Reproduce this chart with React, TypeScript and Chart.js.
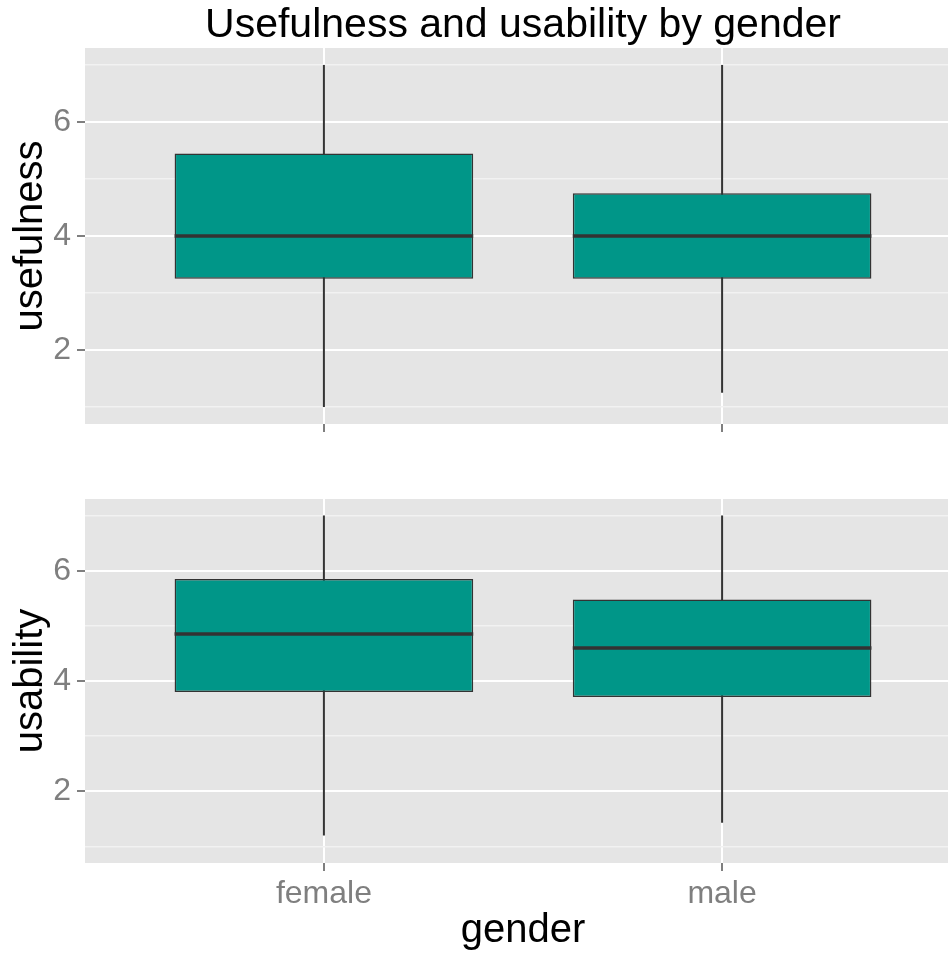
import { useEffect, useRef } from 'react';
import { Chart, registerables } from 'chart.js';

Chart.register(...registerables);

const title = 'Usefulness and usability by gender';
const xTitle = 'gender';
const categories = ['female', 'male'];
const categoryPositions = [1, 2];
const yGridValues = [1, 2, 3, 4, 5, 6, 7];
const yLabelValues = [2, 4, 6];

const usefulnessMin = [1, 1.25];
const usefulnessQ1 = [3.25, 3.25];
const usefulnessMedian = [4, 4];
const usefulnessQ3 = [5.45, 4.75];
const usefulnessMax = [7, 7];

const usabilityMin = [1.2, 1.43];
const usabilityQ1 = [3.8, 3.71];
const usabilityMedian = [4.85, 4.6];
const usabilityQ3 = [5.85, 5.48];
const usabilityMax = [7, 7];

const BOX_WIDTH = 0.75;
const FILL = '#009688';
const LINE = '#333333';
const PANEL_BG = '#E5E5E5';
const TICK_GREY = '#7F7F7F';
const FONT = "'Liberation Sans', Arial, sans-serif";

type Panel = {
  yTitle: string;
  min: number[];
  q1: number[];
  median: number[];
  q3: number[];
  max: number[];
};

const panelBackground = {
  id: 'panelBackground',
  beforeDraw(chart: any) {
    const { ctx, chartArea } = chart;
    ctx.save();
    ctx.fillStyle = PANEL_BG;
    ctx.fillRect(chartArea.left, chartArea.top, chartArea.right - chartArea.left, chartArea.bottom - chartArea.top);
    ctx.restore();
  },
};

function buildConfig(panel: Panel, isBottom: boolean): any {
  const whiskers = categoryPositions.map((x, i) => ({
    type: 'line',
    data: [
      { x, y: panel.min[i] },
      { x, y: panel.max[i] },
    ],
    borderColor: LINE,
    borderWidth: 2,
    pointRadius: 0,
    order: 3,
  }));
  const boxes = {
    type: 'bar',
    data: categoryPositions.map((x, i) => ({ x, y: [panel.q1[i], panel.q3[i]] })),
    backgroundColor: FILL,
    borderColor: LINE,
    borderWidth: 1.5,
    borderSkipped: false,
    barPercentage: BOX_WIDTH,
    categoryPercentage: 1,
    grouped: false,
    order: 2,
  };
  const medians = categoryPositions.map((x, i) => ({
    type: 'line',
    data: [
      { x: x - BOX_WIDTH / 2, y: panel.median[i] },
      { x: x + BOX_WIDTH / 2, y: panel.median[i] },
    ],
    borderColor: LINE,
    borderWidth: 3.5,
    borderCapStyle: 'butt',
    pointRadius: 0,
    order: 1,
  }));

  const isMajor = (ctx: any) => ctx.tick && yLabelValues.includes(ctx.tick.value);

  return {
    type: 'bar',
    data: { datasets: [...whiskers, boxes, ...medians] },
    plugins: [panelBackground],
    options: {
      responsive: false,
      animation: false,
      events: [],
      layout: { padding: { left: 0, right: 0, top: isBottom ? 59 : 0, bottom: 0 } },
      plugins: {
        legend: { display: false },
        tooltip: { enabled: false },
        title: {
          display: !isBottom,
          text: title,
          fullSize: false,
          color: '#000000',
          font: { family: FONT, size: 41, weight: 'normal', lineHeight: 1 },
          padding: { top: 5, bottom: 2 },
        },
      },
      scales: {
        x: {
          type: 'linear',
          min: 0.4,
          max: 2.6,
          offset: false,
          afterBuildTicks: (axis: any) => {
            axis.ticks = categoryPositions.map((v) => ({ value: v }));
          },
          afterFit: (axis: any) => {
            axis.height = isBottom ? 90 : 16;
            axis.paddingLeft = 0;
            axis.paddingRight = 0;
          },
          grid: {
            offset: false,
            color: '#FFFFFF',
            lineWidth: 2,
            tickColor: TICK_GREY,
            tickWidth: 2,
            tickLength: 8,
            drawTicks: true,
          },
          border: { display: false },
          ticks: {
            display: isBottom,
            autoSkip: false,
            maxRotation: 0,
            padding: 4,
            color: TICK_GREY,
            font: { family: FONT, size: 32 },
            callback: (v: any) => categories[categoryPositions.indexOf(Number(v))] ?? '',
          },
          title: {
            display: isBottom,
            text: xTitle,
            color: '#000000',
            font: { family: FONT, size: 40, lineHeight: 1 },
            padding: { top: 0, bottom: 2 },
          },
        },
        y: {
          type: 'linear',
          min: 0.7,
          max: 7.3,
          afterBuildTicks: (axis: any) => {
            axis.ticks = yGridValues.map((v) => ({ value: v }));
          },
          afterFit: (axis: any) => {
            axis.width = 85;
            axis.paddingTop = 0;
            axis.paddingBottom = 0;
          },
          grid: {
            color: (ctx: any) => (isMajor(ctx) ? '#FFFFFF' : '#F2F2F2'),
            lineWidth: (ctx: any) => (isMajor(ctx) ? 2 : 1.5),
            tickColor: (ctx: any) => (isMajor(ctx) ? TICK_GREY : 'rgba(0,0,0,0)'),
            tickWidth: 2,
            tickLength: 8,
          },
          border: { display: false },
          ticks: {
            autoSkip: false,
            padding: 6,
            color: TICK_GREY,
            font: { family: FONT, size: 32 },
            callback: (v: any) => (yLabelValues.includes(Number(v)) ? String(v) : ''),
          },
          title: {
            display: true,
            text: panel.yTitle,
            color: '#000000',
            font: { family: FONT, size: 40, lineHeight: 1 },
            padding: { top: 11, bottom: 0 },
          },
        },
      },
    },
  };
}

export default function App() {
  const topRef = useRef<HTMLCanvasElement>(null);
  const bottomRef = useRef<HTMLCanvasElement>(null);

  useEffect(() => {
    const top = new Chart(
      topRef.current as HTMLCanvasElement,
      buildConfig(
        { yTitle: 'usefulness', min: usefulnessMin, q1: usefulnessQ1, median: usefulnessMedian, q3: usefulnessQ3, max: usefulnessMax },
        false
      )
    );
    const bottom = new Chart(
      bottomRef.current as HTMLCanvasElement,
      buildConfig(
        { yTitle: 'usability', min: usabilityMin, q1: usabilityQ1, median: usabilityMedian, q3: usabilityQ3, max: usabilityMax },
        true
      )
    );
    return () => {
      top.destroy();
      bottom.destroy();
    };
  }, []);

  return (
    <div style={{ position: 'absolute', left: 0, top: 0, width: 948, height: 953, overflow: 'hidden', background: '#FFFFFF' }}>
      <canvas ref={topRef} width={961} height={440} style={{ position: 'absolute', left: 0, top: 0 }} />
      <canvas ref={bottomRef} width={961} height={513} style={{ position: 'absolute', left: 0, top: 440 }} />
    </div>
  );
}
